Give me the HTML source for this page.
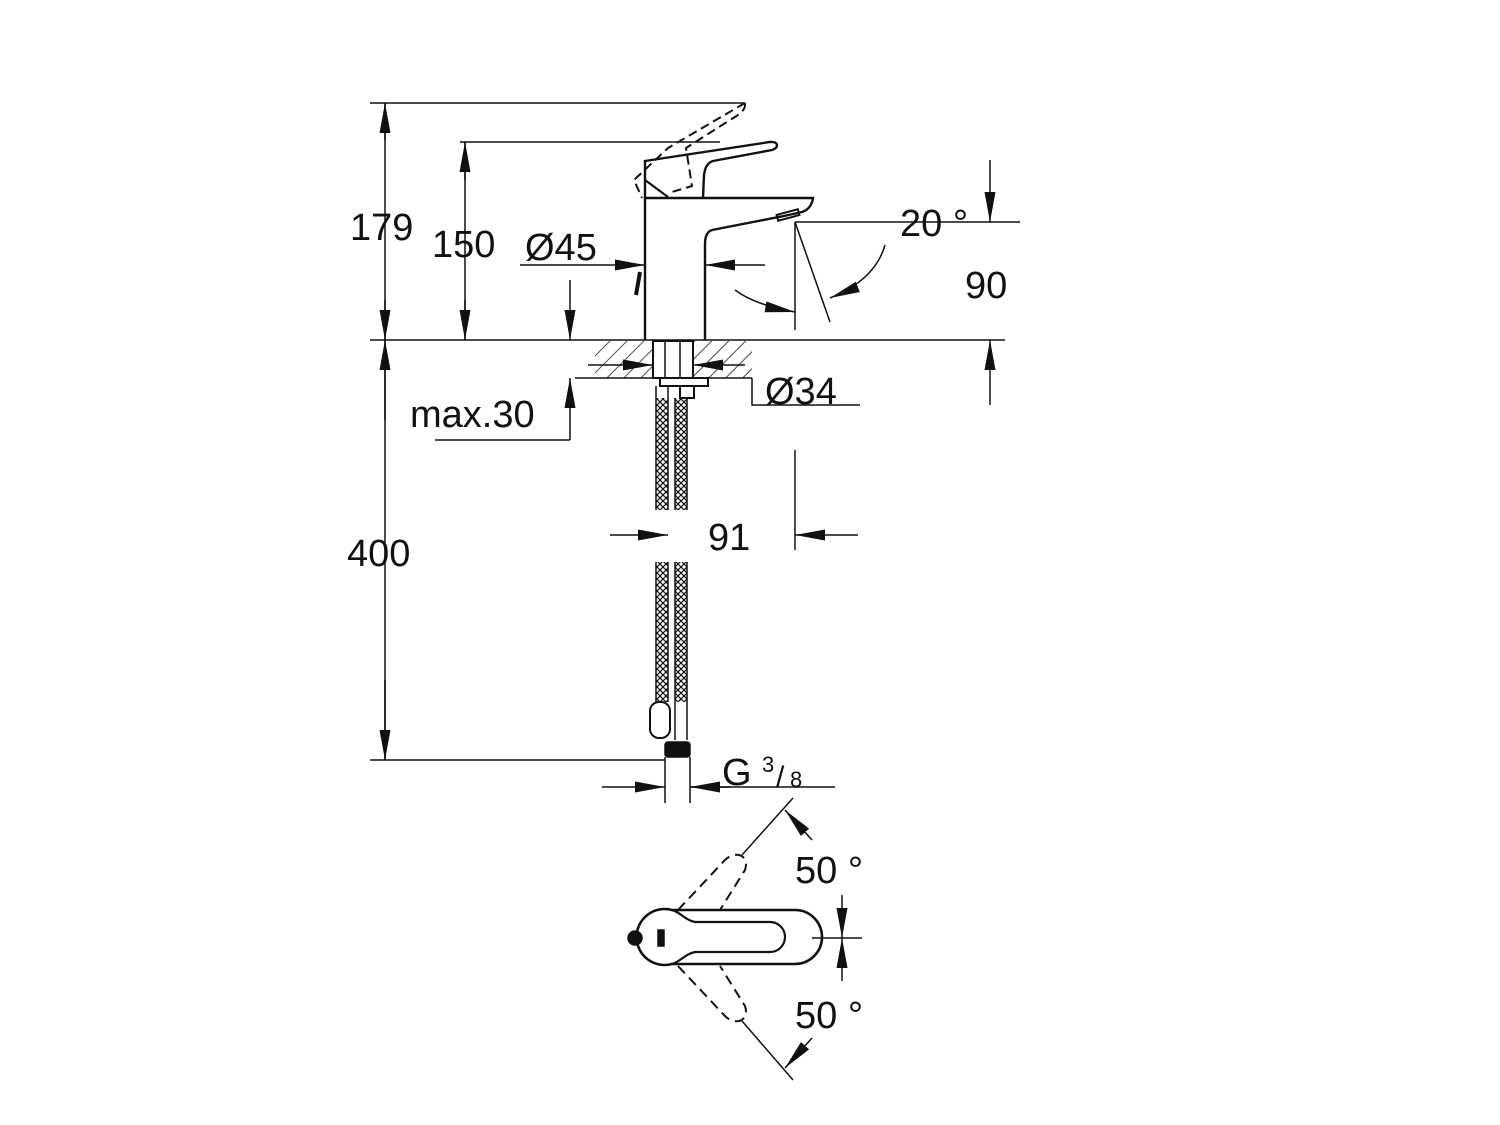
<!DOCTYPE html>
<html><head><meta charset="utf-8"><style>
html,body{margin:0;padding:0;background:#fff;}
svg{display:block;}
text{font-family:"Liberation Sans",sans-serif;fill:#111;}
</style></head><body>
<svg width="1500" height="1125" viewBox="0 0 1500 1125" xmlns="http://www.w3.org/2000/svg">
<defs>
<marker id="a" viewBox="0 0 30 12" refX="30" refY="6" markerWidth="30" markerHeight="12" markerUnits="userSpaceOnUse" orient="auto"><path d="M0,0.5 L30,6 L0,11.5z" fill="#111"/></marker>
<pattern id="h" width="12" height="12" patternUnits="userSpaceOnUse" patternTransform="rotate(45)"><line x1="0" y1="0" x2="0" y2="12" stroke="#111" stroke-width="1.5"/></pattern>
<pattern id="br" width="6" height="6" patternUnits="userSpaceOnUse"><path d="M0,0 L6,6 M6,0 L0,6" stroke="#111" stroke-width="1.2"/></pattern>
</defs>
<g stroke="#111" stroke-width="1.5" fill="none">
<line x1="370" y1="103" x2="745" y2="103"/>
<line x1="460" y1="142" x2="720" y2="142"/>
<line x1="370" y1="340" x2="1005" y2="340"/>
<line x1="385" y1="103" x2="385" y2="340"/>
<line x1="385" y1="140" x2="385" y2="103" marker-end="url(#a)"/>
<line x1="385" y1="300" x2="385" y2="340" marker-end="url(#a)"/>
<line x1="465" y1="142" x2="465" y2="340"/>
<line x1="465" y1="180" x2="465" y2="142" marker-end="url(#a)"/>
<line x1="465" y1="300" x2="465" y2="340" marker-end="url(#a)"/>
<!-- dashed lever -->
<path d="M745,103 C746,110 740,114 730,120 L686,148 L692,186 L672,192" stroke-dasharray="9,5" stroke-width="2"/>
<path d="M745,103 L668,148 L634,180 L642,198" stroke-dasharray="9,5" stroke-width="2"/>
<!-- lever -->
<path d="M645,198 L645,161 L770,142 C779,141 779,148 772,150 L713,161 C707,163 705,168 704,175 L703,198" stroke-width="2.4"/>
<path d="M645,180 L668,197" stroke-width="2.2"/>
<!-- body & spout -->
<path d="M645,340 L645,198 L813,198 C812,205 808,210 802,212 L784,216 L712,230 C706,232 705,238 705,245 L705,340" stroke-width="2.4"/>
<rect x="777" y="212" width="22" height="6" transform="rotate(-15 788 215)" stroke-width="2"/>
<path d="M640,272 L636,295" stroke-width="4"/>
<line x1="520" y1="265" x2="645" y2="265" marker-end="url(#a)"/>
<line x1="765" y1="265" x2="705" y2="265" marker-end="url(#a)"/>
<line x1="570" y1="280" x2="570" y2="340" marker-end="url(#a)"/>
<line x1="570" y1="440" x2="570" y2="378" marker-end="url(#a)"/>
<line x1="435" y1="440" x2="570" y2="440"/>
<!-- deck -->
<rect x="595" y="341" width="157" height="37" fill="url(#h)" stroke="none"/>
<line x1="575" y1="378" x2="752" y2="378"/>
<rect x="653" y="341" width="40" height="37" fill="#fff" stroke-width="2"/>
<line x1="665" y1="341" x2="665" y2="378"/><line x1="680" y1="341" x2="680" y2="378"/>
<line x1="588" y1="365" x2="653" y2="365" marker-end="url(#a)"/>
<line x1="745" y1="365" x2="693" y2="365" marker-end="url(#a)"/>
<path d="M752,378 L752,405 L860,405"/>
<rect x="660" y="378" width="48" height="8" stroke-width="2"/>
<rect x="680" y="386" width="14" height="12" stroke-width="2"/>
<!-- hoses -->
<rect x="656" y="398" width="12" height="112" fill="url(#br)" stroke="none"/>
<rect x="675" y="398" width="12" height="112" fill="url(#br)" stroke="none"/>
<rect x="656" y="562" width="12" height="140" fill="url(#br)" stroke="none"/>
<rect x="675" y="562" width="12" height="140" fill="url(#br)" stroke="none"/>
<line x1="656" y1="386" x2="656" y2="510"/><line x1="668" y1="386" x2="668" y2="510"/>
<line x1="675" y1="398" x2="675" y2="510"/><line x1="687" y1="398" x2="687" y2="510"/>
<line x1="656" y1="562" x2="656" y2="702"/><line x1="668" y1="562" x2="668" y2="702"/>
<line x1="675" y1="562" x2="675" y2="740"/><line x1="687" y1="562" x2="687" y2="740"/>
<rect x="650" y="702" width="20" height="36" rx="9" stroke-width="2"/>
<rect x="665" y="742" width="25" height="15" rx="3" fill="#111"/>
<line x1="665" y1="757" x2="665" y2="803"/><line x1="690" y1="757" x2="690" y2="803"/>
<line x1="795" y1="450" x2="795" y2="550"/>
<line x1="610" y1="535" x2="668" y2="535" marker-end="url(#a)"/>
<line x1="858" y1="535" x2="795" y2="535" marker-end="url(#a)"/>
<line x1="385" y1="340" x2="385" y2="760"/>
<line x1="385" y1="420" x2="385" y2="340" marker-end="url(#a)"/>
<line x1="385" y1="680" x2="385" y2="760" marker-end="url(#a)"/>
<line x1="370" y1="760" x2="665" y2="760"/>
<line x1="602" y1="787" x2="665" y2="787" marker-end="url(#a)"/>
<line x1="835" y1="787" x2="690" y2="787"/>
<line x1="730" y1="787" x2="690" y2="787" marker-end="url(#a)"/>
<!-- 20° / 90 -->
<line x1="795" y1="222" x2="1020" y2="222"/>
<line x1="795" y1="222" x2="795" y2="330"/>
<line x1="795" y1="222" x2="830" y2="322"/>
<line x1="990" y1="160" x2="990" y2="222" marker-end="url(#a)"/>
<line x1="990" y1="405" x2="990" y2="340" marker-end="url(#a)"/>
<path d="M735,290 Q755,305 795,312" marker-end="url(#a)"/>
<path d="M885,245 Q875,280 830,298" marker-end="url(#a)"/>
<!-- plan view -->
<path d="M672,910 L795,910 A27,27 0 0 1 795,964 L672,964 A28,28 0 1 1 672,910 Z" stroke-width="2.6"/>
<path d="M672,910 C680,912 685,920 695,922 L770,922 A15,15 0 0 1 770,952 L695,952 C685,954 680,962 672,964" stroke-width="2.2"/>
<circle cx="635" cy="938" r="7" fill="#111"/>
<rect x="658" y="930" width="6" height="16" fill="#111"/>
<line x1="812" y1="938" x2="862" y2="938"/>
<path d="M678,910 L725,860 C735,850 750,855 745,870 L720,910" stroke-dasharray="10,6" stroke-width="2"/>
<path d="M678,966 L725,1016 C735,1026 750,1021 745,1006 L720,966" stroke-dasharray="10,6" stroke-width="2"/>
<line x1="742" y1="855" x2="793" y2="798"/>
<line x1="742" y1="1021" x2="793" y2="1080"/>
<line x1="812" y1="840" x2="785" y2="810" marker-end="url(#a)"/>
<line x1="842" y1="895" x2="842" y2="938" marker-end="url(#a)"/>
<line x1="842" y1="981" x2="842" y2="938" marker-end="url(#a)"/>
<line x1="812" y1="1038" x2="785" y2="1068" marker-end="url(#a)"/>
</g>
<g font-size="38">
<text x="350" y="240">179</text>
<text x="432" y="257">150</text>
<text x="525" y="260">Ø45</text>
<text x="410" y="427">max.30</text>
<text x="765" y="404">Ø34</text>
<text x="347" y="566">400</text>
<text x="708" y="550">91</text>
<text x="900" y="236">20 °</text>
<text x="965" y="298">90</text>
<text x="722" y="785">G</text>
<text x="762" y="772" font-size="22">3</text>
<text x="776" y="787" font-size="30">/</text>
<text x="790" y="787" font-size="22">8</text>
<text x="795" y="883">50 °</text>
<text x="795" y="1028">50 °</text>
</g>
</svg>
</body></html>
